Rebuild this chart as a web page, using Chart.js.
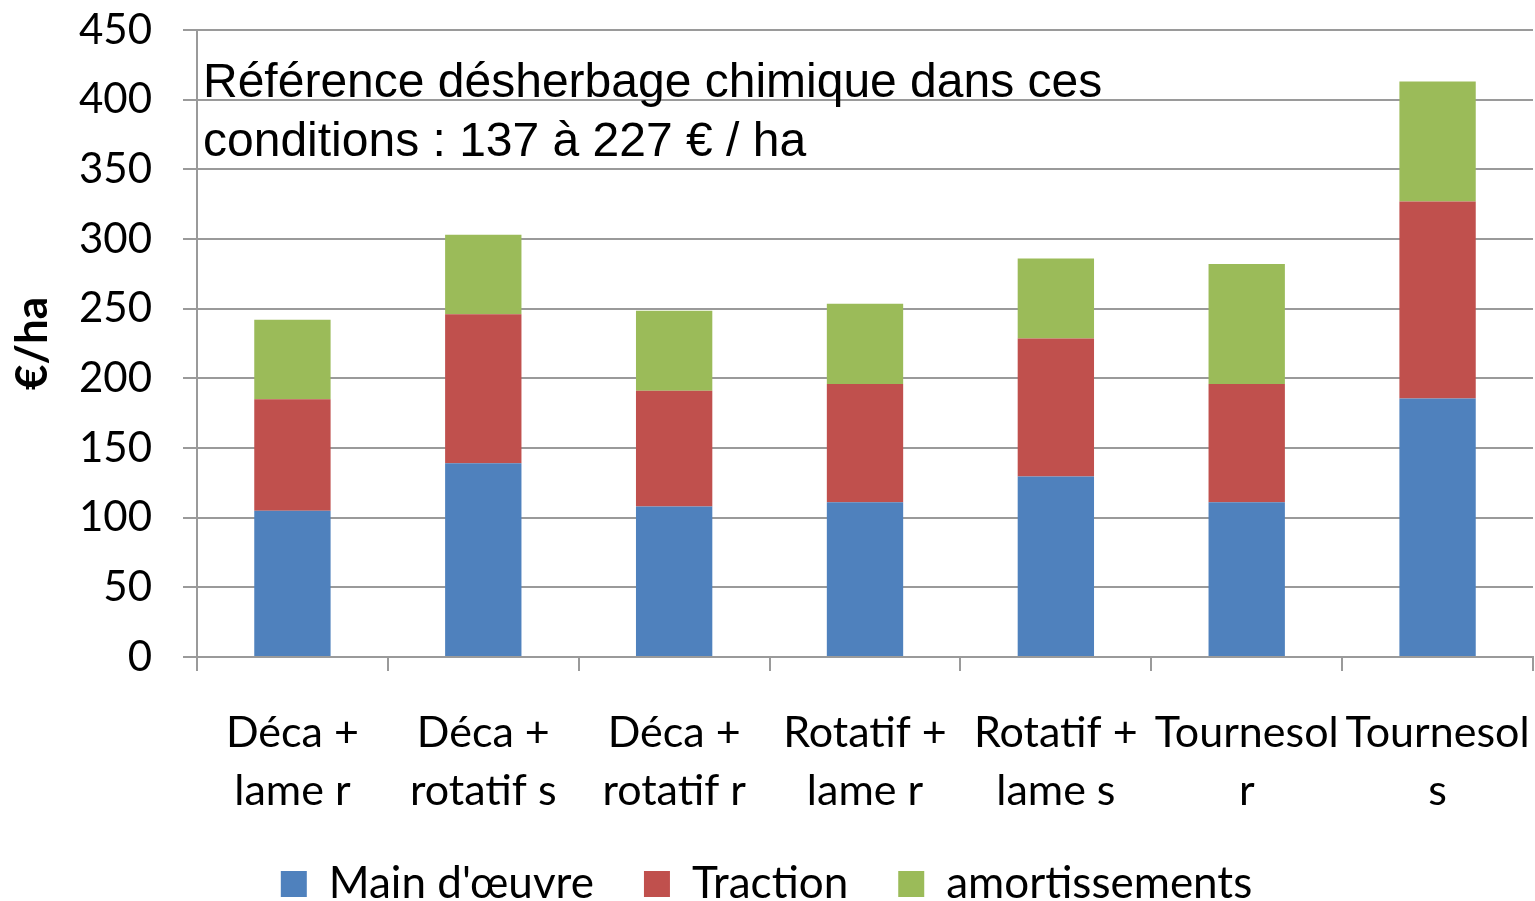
<!DOCTYPE html>
<html>
<head>
<meta charset="utf-8">
<script src="https://cdn.jsdelivr.net/npm/chart.js@4.4.0/dist/chart.umd.min.js"></script>
<style>
  html, body { margin: 0; padding: 0; background: #ffffff; }
  #wrap { width: 1535px; height: 901px; position: relative; }
</style>
</head>
<body>
<div id="wrap"><canvas id="cost-chart" width="1535" height="901"></canvas></div>
<script>
// categories (multi-line labels as on the original axis)
const categories = [
  ['Déca +', 'lame r'],
  ['Déca +', 'rotatif s'],
  ['Déca +', 'rotatif r'],
  ['Rotatif +', 'lame r'],
  ['Rotatif +', 'lame s'],
  ['Tournesol', 'r'],
  ['Tournesol', 's']
];

// €/ha per cost component
const mainOeuvre = [105, 139, 108, 111, 129.5, 111, 185.5];
const traction = [80, 107, 83, 85, 99, 85, 141.5];
const amortissements = [57, 57, 57.5, 57.5, 57.5, 86, 86];

const seriesNames = ["Main d'œuvre", 'Traction', 'amortissements'];
const yTicks = [0, 50, 100, 150, 200, 250, 300, 350, 400, 450];

const noteLines = [
  'Référence désherbage chimique dans ces',
  'conditions : 137 à 227 € / ha'
];

const COLORS = ['#4F81BD', '#C0504D', '#9BBB59'];
const GRID = '#9a9a9a';

// reference note drawn in the upper-left of the plot area
const notePlugin = {
  id: 'note',
  afterDatasetsDraw(chart) {
    const { ctx, chartArea } = chart;
    ctx.save();
    ctx.font = '48px "Liberation Sans", Arial, sans-serif';
    ctx.fillStyle = '#000000';
    ctx.textAlign = 'left';
    ctx.textBaseline = 'alphabetic';
    noteLines.forEach((line, i) => {
      ctx.fillText(line, chartArea.left + 6, chartArea.top + 67 + i * 59);
    });
    ctx.restore();
  }
};

new Chart(document.getElementById('cost-chart'), {
  type: 'bar',
  data: {
    labels: categories,
    datasets: [mainOeuvre, traction, amortissements].map((values, i) => ({
      label: seriesNames[i],
      data: values,
      backgroundColor: COLORS[i],
      borderWidth: 0,
      categoryPercentage: 0.4,
      barPercentage: 1.0
    }))
  },
  options: {
    responsive: false,
    animation: false,
    layout: { padding: { top: 30, right: 2, left: 0, bottom: -15 } },
    plugins: {
      tooltip: { enabled: false },
      legend: {
        position: 'bottom',
        labels: {
          color: '#000000',
          font: { family: 'Lato', size: 44 },
          boxWidth: 26,
          boxHeight: 26,
          padding: 50
        }
      }
    },
    scales: {
      x: {
        stacked: true,
        afterFit(scale) {
          scale.height = 155;
          scale.paddingLeft = 0;
          scale.paddingRight = 0;
        },
        border: { color: GRID, width: 2 },
        grid: { drawOnChartArea: false, tickLength: 14, color: GRID, lineWidth: 2, offset: true },
        ticks: {
          color: '#000000',
          font: { family: 'Lato', size: 43, lineHeight: 1.33 },
          padding: 34,
          maxRotation: 0,
          autoSkip: false
        }
      },
      y: {
        stacked: true,
        min: 0,
        max: 450,
        afterFit(scale) {
          scale.width = 197;
          scale.paddingTop = 0;
          scale.paddingBottom = 0;
        },
        afterBuildTicks(scale) { scale.ticks = yTicks.map(v => ({ value: v })); },
        border: { color: GRID, width: 2 },
        grid: { color: GRID, lineWidth: 2, tickLength: 14 },
        ticks: {
          color: '#000000',
          font: { family: 'Lato', size: 42 },
          padding: 31
        },
        title: {
          display: true,
          text: '€/ha',
          color: '#000000',
          font: { family: 'Lato', size: 44, weight: 'bold' },
          padding: { top: 6, bottom: 0 }
        }
      }
    }
  },
  plugins: [notePlugin]
});
</script>
</body>
</html>
